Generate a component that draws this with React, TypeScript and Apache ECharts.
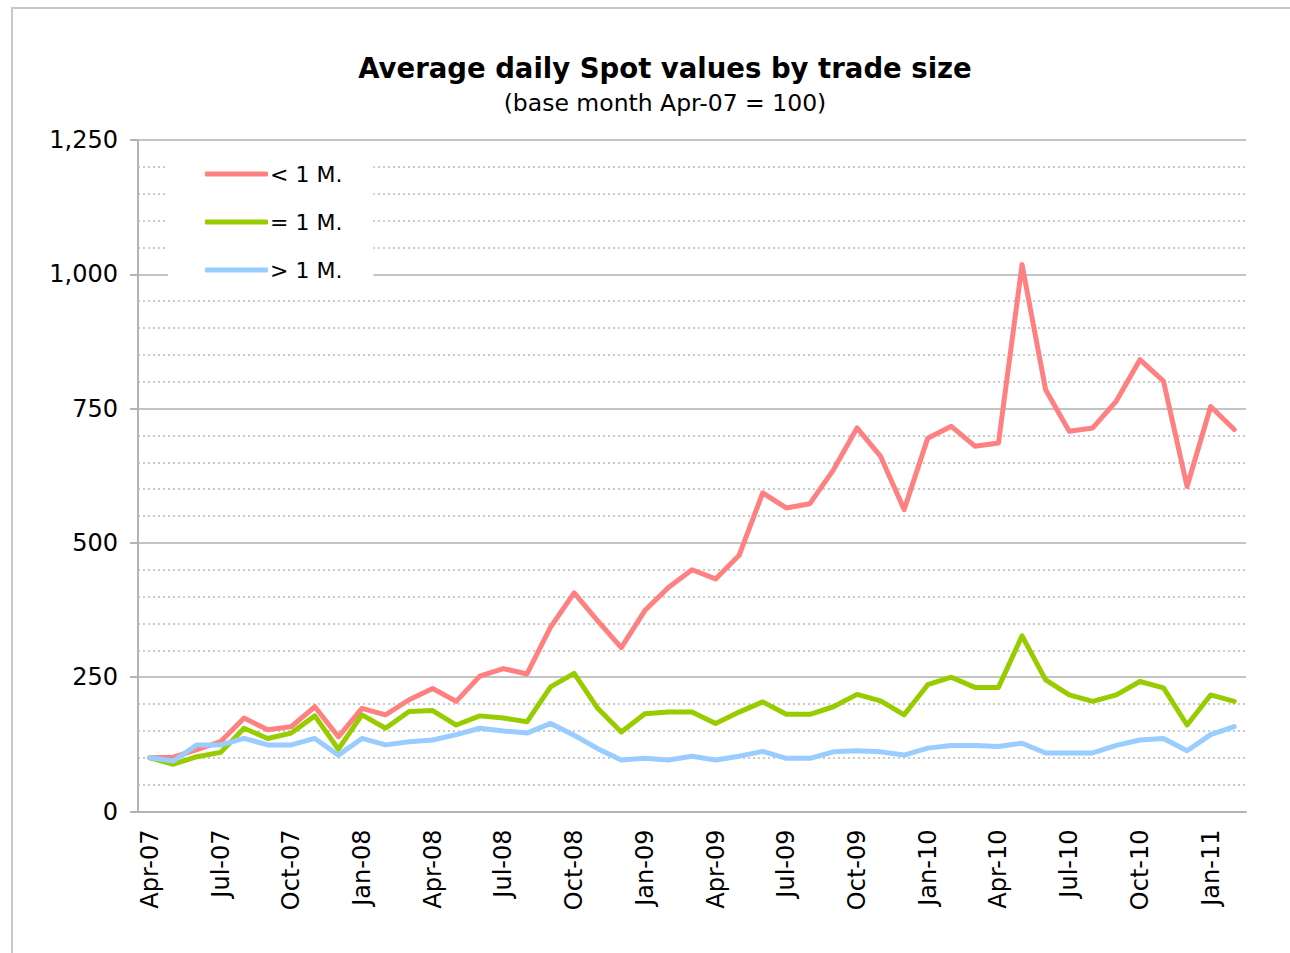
import React, { useEffect, useRef } from "react";
import * as echarts from "echarts";

const months: string[] = [
  "Apr-07", "May-07", "Jun-07", "Jul-07", "Aug-07", "Sep-07", "Oct-07", "Nov-07", "Dec-07",
  "Jan-08", "Feb-08", "Mar-08", "Apr-08", "May-08", "Jun-08", "Jul-08", "Aug-08", "Sep-08",
  "Oct-08", "Nov-08", "Dec-08", "Jan-09", "Feb-09", "Mar-09", "Apr-09", "May-09", "Jun-09",
  "Jul-09", "Aug-09", "Sep-09", "Oct-09", "Nov-09", "Dec-09", "Jan-10", "Feb-10", "Mar-10",
  "Apr-10", "May-10", "Jun-10", "Jul-10", "Aug-10", "Sep-10", "Oct-10", "Nov-10", "Dec-10",
  "Jan-11", "Feb-11",
];

const lessThan1M: number[] = [
  100, 101, 115, 130, 174, 152, 158, 195, 139, 192, 180, 208, 229, 205, 252, 266, 256, 343,
  407, 355, 305, 374, 417, 450, 433, 477, 593, 565, 573, 636, 714, 661, 562, 695, 717, 680,
  686, 1018, 785, 708, 714, 764, 841, 801, 605, 754, 711,
];

const equal1M: number[] = [
  100, 88, 102, 110, 155, 136, 146, 178, 116, 180, 155, 186, 188, 161, 178, 174, 167, 232,
  257, 192, 148, 182, 185, 185, 164, 185, 204, 181, 181, 195, 218, 206, 180, 236, 250, 231,
  231, 327, 245, 217, 205, 217, 242, 230, 161, 217, 205,
];

const greaterThan1M: number[] = [
  100, 94, 124, 124, 136, 124, 124, 136, 105, 136, 124, 130, 133, 143, 155, 150, 146, 164,
  142, 117, 96, 99, 96, 103, 96, 103, 112, 99, 99, 111, 113, 111, 105, 118, 123, 123,
  121, 127, 109, 109, 109, 123, 133, 136, 113, 143, 158,
];

const seriesNames = ["< 1 M.", "= 1 M.", "> 1 M."];
const seriesColors = ["#FF8080", "#99CC00", "#99CCFF"];

const FONT = "DejaVu Sans";

export default function App() {
  const ref = useRef<HTMLDivElement>(null);

  useEffect(() => {
    if (!ref.current) return;
    const chart = echarts.init(ref.current, undefined, { renderer: "svg" });
    const datasets = [lessThan1M, equal1M, greaterThan1M];
    chart.setOption({
      animation: false,
      backgroundColor: "#ffffff",
      title: {
        text: "Average daily Spot values by trade size",
        subtext: "(base month Apr-07 = 100)",
        left: 660,
        textAlign: "center",
        top: 49,
        itemGap: 9,
        textStyle: { fontFamily: FONT, fontWeight: "bold", fontSize: 27.5, color: "#000" },
        subtextStyle: { fontFamily: FONT, fontSize: 23.5, color: "#000" },
      },
      graphic: [
        {
          type: "rect",
          shape: { x: 12, y: 8, width: 1300, height: 960 },
          style: { fill: "none", stroke: "#c8c8c8", lineWidth: 2 },
          silent: true,
        },
      ],
      legend: {
        orient: "vertical",
        left: 168,
        top: 150,
        padding: [13, 31, 10, 37],
        backgroundColor: "#ffffff",
        itemWidth: 63,
        itemHeight: 5,
        itemGap: 26,
        icon: "roundRect",
        textStyle: { fontFamily: FONT, fontSize: 22, color: "#000", padding: [0, 0, 0, -3] },
        data: seriesNames,
      },
      grid: { left: 138, right: 44, top: 140, bottom: 141.5, containLabel: false },
      xAxis: {
        type: "category",
        data: months,
        boundaryGap: true,
        axisLine: { show: true, lineStyle: { color: "#b4b4b4", width: 2 } },
        axisTick: { show: false },
        axisLabel: {
          interval: 2,
          rotate: 90,
          margin: 18,
          fontFamily: FONT,
          fontSize: 24,
          color: "#000",
        },
        splitLine: { show: false },
      },
      yAxis: {
        type: "value",
        min: 0,
        max: 1250,
        interval: 250,
        axisLine: { show: true, lineStyle: { color: "#b4b4b4", width: 2 } },
        axisTick: { show: true, length: 8, lineStyle: { color: "#b4b4b4", width: 2 } },
        axisLabel: {
          margin: 20,
          fontFamily: FONT,
          fontSize: 24,
          color: "#000",
          formatter: (v: number) => v.toLocaleString("en-US"),
        },
        splitLine: { show: true, lineStyle: { color: "#c4c4c4", width: 2 } },
        minorTick: { show: false, splitNumber: 5 },
        minorSplitLine: { show: true, lineStyle: { color: "#b8b8b8", width: 1.5, type: [2, 3] } },
      },
      series: datasets.map((d, i) => ({
        name: seriesNames[i],
        type: "line",
        data: d,
        symbol: "none",
        color: seriesColors[i],
        lineStyle: { width: 5, color: seriesColors[i], join: "round", cap: "round" },
        z: 2 + i,
      })),
    });
    return () => chart.dispose();
  }, []);

  return (
    <div
      ref={ref}
      style={{ position: "fixed", left: 0, top: 0, width: 1290, height: 953 }}
    />
  );
}
